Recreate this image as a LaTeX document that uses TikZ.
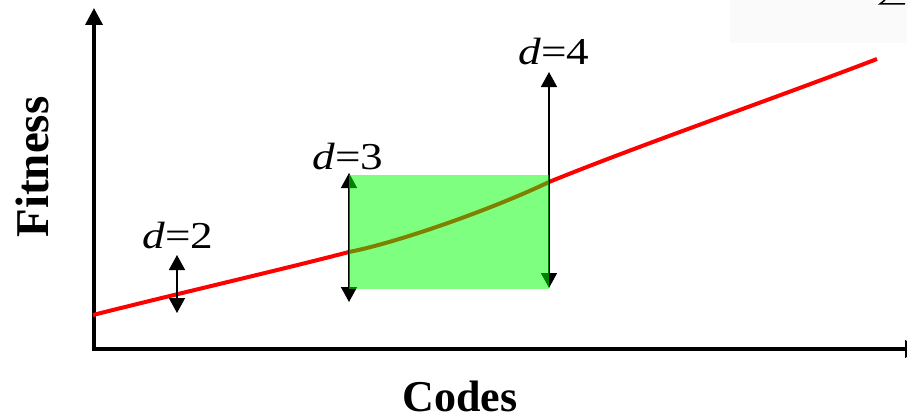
\documentclass[tikz,border=0pt]{standalone}
\usepackage{fontspec}
\setmainfont{Liberation Serif}
\usetikzlibrary{arrows.meta}
\begin{document}
\begin{tikzpicture}[x=1pt,y=-1pt,
  axis/.style={line width=3.5pt,-{Triangle[width=17pt,length=17pt]}},
  darrow/.style={line width=1.5pt,{Triangle[width=16pt,length=15pt]}-{Triangle[width=16pt,length=15pt]}},
  lbl/.style={inner sep=0pt,font=\fontsize{38}{38}\selectfont,xscale=1.19},
  curve/.style={red,line width=4pt},
  band/.style={fill=green,opacity=0.5},
]
\useasboundingbox (0,0) rectangle (907,420);
\fill[black!2] (730,0) rectangle (907,43);
\draw[line width=1.5pt] (885,0) -- (880,4) -- (905,4);
% axes
\coordinate (o) at (94,349);
\coordinate (ytop) at (94,8);
\coordinate (xend) at (922,349);
\draw[axis] (94,351) -- (ytop);
\draw[axis] (92,349) -- (xend);
% curve
\draw[curve] (93,315) .. controls (180,293) and (280,270) .. (349,252)
  .. controls (400,242) and (495,208) .. (549,182)
  .. controls (640,145) and (770,100) .. (877,59);
% arrows
\coordinate (a2t) at (177,255); \coordinate (a2b) at (177,313);
\coordinate (a3t) at (349,173); \coordinate (a3b) at (349,302);
\coordinate (a4t) at (549,72);  \coordinate (a4b) at (549,288);
\draw[darrow] (a2b) -- (a2t);
\draw[darrow] (a3b) -- (a3t);
\draw[darrow] (a4b) -- (a4t);
% band
\fill[band] (349,175) rectangle (549,289);
% labels
\node[lbl] (d2) at (178,236) {\textit{d}=2};
\node[lbl] (d3) at (348,157) {\textit{d}=3};
\node[lbl] (d4) at (554,52) {\textit{d}=4};
\node[rotate=90,inner sep=0pt,font=\bfseries\fontsize{47}{47}\selectfont] (fit) at (32,167) {Fitness};
\node[inner sep=0pt,font=\bfseries\fontsize{44}{44}\selectfont] (codes) at (460,396) {Codes};
\end{tikzpicture}
\end{document}
